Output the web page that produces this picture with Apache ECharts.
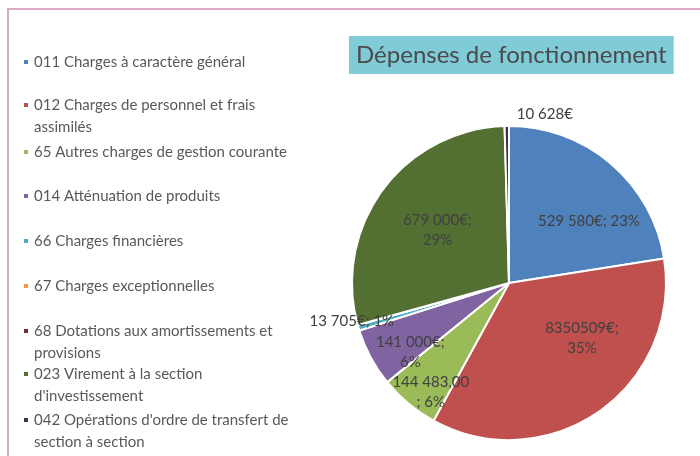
<!DOCTYPE html>
<html>
<head>
<meta charset="utf-8">
<script src="https://cdn.jsdelivr.net/npm/echarts@6/dist/echarts.min.js"></script>
<style>
  html, body { margin: 0; padding: 0; background: #fff; }
  #main { width: 700px; height: 456px; }
</style>
</head>
<body>
<div id="main"></div>
<script>
// data
var categories = [
    '011 Charges à caractère général',
    '012 Charges de personnel et frais assimilés',
    '65 Autres charges de gestion courante',
    '014 Atténuation de produits',
    '66 Charges financières',
    '67 Charges exceptionnelles',
    '68 Dotations aux amortissements et provisions',
    '023 Virement à la section d\'investissement',
    '042 Opérations d\'ordre de transfert de section à section'
];
var values = [529580, 835051, 144483, 141000, 13705, 0, 0, 679000, 10628];
var legendText = [
    '011 Charges à caractère général',
    '012 Charges de personnel et frais\nassimilés',
    '65 Autres charges de gestion courante',
    '014 Atténuation de produits',
    '66 Charges financières',
    '67 Charges exceptionnelles',
    '68 Dotations aux amortissements et\nprovisions',
    '023 Virement à la section\nd\'investissement',
    '042 Opérations d\'ordre de transfert de\nsection à section'
];
var labelText = [
    '529 580€; 23%',
    '8350509€;\n35%',
    '144 483,00\n; 6%',
    '141 000€;\n6%',
    '13 705€; 1%',
    '',
    '',
    '679 000€;\n29%',
    '10 628€'
];
var colors = ['#4F81BD', '#C0504D', '#9BBB59', '#8064A2', '#4BACC6', '#F79646', '#772C2A', '#546F32', '#3F3151'];

// label nudges (Excel best fit)
var labelDx = [27, 26, -26, -27, -79, 0, 0, -6, 37];
var labelDy = [0, -12, 47, 30, 15, 0, 0, -4, -87];
// legend rows
var legendTop = [51, 72, 141, 185, 230, 275, 298, 341, 387];

var myChart = echarts.init(document.getElementById('main'));

var legends = [];
for (var i = 0; i < categories.length; i++) {
    // two-line entries: blank first line keeps the marker level with the first text line
    var txt = legendText[i].indexOf('\n') >= 0 ? ' \n' + legendText[i] : legendText[i];
    legends.push({
        data: [categories[i]],
        left: 22,
        top: legendTop[i],
        padding: 0,
        orient: 'vertical',
        icon: 'rect',
        itemWidth: 6,
        itemHeight: 6,
        itemGap: 0,
        selectedMode: false,
        formatter: (function (t) { return function () { return t; }; })(txt),
        textStyle: {
            fontFamily: 'Lato',
            fontSize: 15,
            color: '#595959',
            lineHeight: 22
        }
    });
}

var pieData = [];
for (var j = 0; j < categories.length; j++) {
    pieData.push({
        name: categories[j],
        value: values[j],
        itemStyle: { color: colors[j] }
    });
}

myChart.setOption({
    animation: false,
    title: {
        text: 'Dépenses de fonctionnement',
        left: 349,
        top: 36,
        padding: [4, 7, 4, 7],
        backgroundColor: '#80CBD8',
        textStyle: {
            fontFamily: 'Lato',
            fontSize: 24,
            fontWeight: 'normal',
            color: '#4A4A4A',
            lineHeight: 30
        }
    },
    legend: legends,
    graphic: [{
        type: 'rect',
        shape: { x: 8, y: 9, width: 800, height: 600 },
        style: { fill: 'none', stroke: '#DBA9C3', lineWidth: 2 },
        silent: true
    }],
    series: [{
        type: 'pie',
        center: [509, 283],
        radius: 157,
        startAngle: 90,
        clockwise: true,
        silent: true,
        itemStyle: { borderColor: '#fff', borderWidth: 2 },
        label: {
            show: true,
            position: 'inside',
            fontFamily: 'Lato',
            fontSize: 15,
            color: '#404040',
            lineHeight: 20,
            formatter: function (p) { return labelText[p.dataIndex]; }
        },
        labelLine: { show: false },
        labelLayout: function (p) {
            return { dx: labelDx[p.dataIndex], dy: labelDy[p.dataIndex] };
        },
        data: pieData
    }]
});
</script>
</body>
</html>
